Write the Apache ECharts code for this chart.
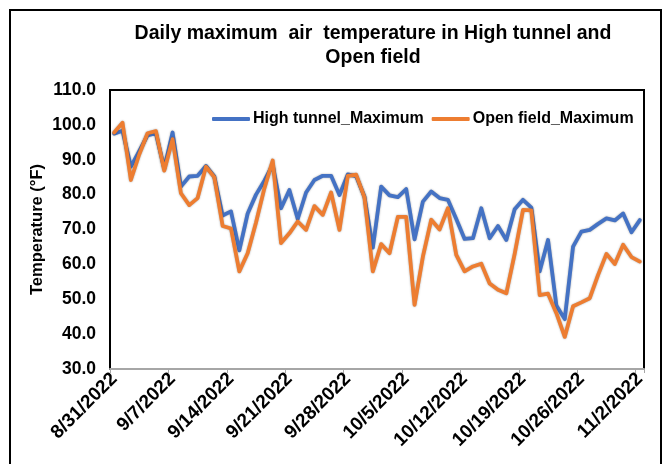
<!DOCTYPE html>
<html>
<head>
<meta charset="utf-8">
<script src="https://cdn.jsdelivr.net/npm/echarts@6/dist/echarts.min.js"></script>
<style>
  html, body { margin: 0; padding: 0; background: #ffffff; }
  #chart { width: 664px; height: 464px; }
</style>
</head>
<body>
<div id="chart"></div>
<script>
// Daily dates, 8/31/2022 through 11/2/2022
const dates = [
  '8/31/2022',
  '9/1/2022', '9/2/2022', '9/3/2022', '9/4/2022', '9/5/2022', '9/6/2022', '9/7/2022',
  '9/8/2022', '9/9/2022', '9/10/2022', '9/11/2022', '9/12/2022', '9/13/2022', '9/14/2022',
  '9/15/2022', '9/16/2022', '9/17/2022', '9/18/2022', '9/19/2022', '9/20/2022', '9/21/2022',
  '9/22/2022', '9/23/2022', '9/24/2022', '9/25/2022', '9/26/2022', '9/27/2022', '9/28/2022',
  '9/29/2022', '9/30/2022', '10/1/2022', '10/2/2022', '10/3/2022', '10/4/2022', '10/5/2022',
  '10/6/2022', '10/7/2022', '10/8/2022', '10/9/2022', '10/10/2022', '10/11/2022', '10/12/2022',
  '10/13/2022', '10/14/2022', '10/15/2022', '10/16/2022', '10/17/2022', '10/18/2022', '10/19/2022',
  '10/20/2022', '10/21/2022', '10/22/2022', '10/23/2022', '10/24/2022', '10/25/2022', '10/26/2022',
  '10/27/2022', '10/28/2022', '10/29/2022', '10/30/2022', '10/31/2022', '11/1/2022', '11/2/2022'
];

// Daily maximum air temperature (°F)
const highTunnelMax = [
  97.5, 98.3, 88.0, 92.5, 97.0, 97.6, 87.5, 97.8,
  82.3, 85.2, 85.4, 88.2, 85.2, 74.0, 75.2,
  64.0, 74.6, 80.0, 84.0, 88.5, 76.1, 81.3,
  73.0, 80.6, 84.2, 85.4, 85.4, 79.9, 85.8,
  85.3, 79.4, 64.8, 82.3, 79.8, 79.3, 81.6,
  67.2, 78.0, 80.9, 79.0, 78.5, 73.0, 67.3,
  67.5, 76.1, 67.5, 71.0, 67.0, 75.8, 78.5,
  76.3, 58.0, 67.0, 48.2, 44.3, 65.1, 69.4,
  69.9, 71.6, 73.2, 72.6, 74.6, 69.2, 72.7
];

const openFieldMax = [
  97.8, 100.6, 84.2, 91.5, 97.6, 98.2, 86.9, 95.9,
  80.4, 77.0, 79.0, 88.0, 85.0, 71.0, 70.3,
  58.0, 63.2, 72.0, 81.8, 89.8, 66.1, 68.9,
  72.3, 69.9, 76.7, 74.2, 80.6, 69.9, 85.4,
  85.7, 79.2, 58.0, 65.8, 63.2, 73.6, 73.6,
  48.4, 62.2, 72.8, 70.0, 76.1, 62.7, 58.0,
  59.4, 60.2, 54.5, 52.7, 51.7, 63.0, 75.6,
  75.5, 51.2, 51.6, 46.0, 39.2, 48.0, 49.1,
  50.3, 57.0, 63.0, 60.1, 65.6, 62.1, 60.8
];

// Temperature axis range and step
const yMin = 30;
const yMax = 110;
const yStep = 10;

const seriesNames = ['High tunnel_Maximum', 'Open field_Maximum'];
const seriesColors = ['#4472C4', '#ED7D31'];

const FONT = '"Liberation Sans", Arial, Helvetica, sans-serif';

const chart = echarts.init(document.getElementById('chart'), null, { renderer: 'canvas' });

chart.setOption({
  animation: false,
  backgroundColor: '#ffffff',
  title: {
    text: 'Daily maximum  air  temperature in High tunnel and\nOpen field',
    left: 368,
    top: 17,
    textAlign: 'center',
    textStyle: {
      fontFamily: FONT,
      fontSize: 19.5,
      fontWeight: 'bold',
      color: '#000',
      lineHeight: 24
    }
  },
  legend: {
    data: seriesNames,
    left: 207,
    top: 106,
    itemWidth: 38,
    itemHeight: 4,
    itemGap: 8,
    icon: 'roundRect',
    textStyle: {
      fontFamily: FONT,
      fontSize: 16,
      fontWeight: 'bold',
      color: '#000',
      padding: [0, 0, 0, -2]
    }
  },
  graphic: [{
    type: 'rect',
    silent: true,
    shape: { x: 10, y: 10, width: 651, height: 470 },
    style: { fill: 'none', stroke: '#000', lineWidth: 2 }
  }],
  grid: {
    left: 110,
    right: 20,
    top: 90,
    bottom: 95,
    show: true,
    borderColor: '#000',
    borderWidth: 2,
    backgroundColor: 'transparent'
  },
  xAxis: {
    type: 'category',
    data: dates,
    boundaryGap: true,
    axisLine: { show: true, lineStyle: { color: '#a6a6a6', width: 2 } },
    axisTick: { show: true, interval: 6, alignWithLabel: false, length: 4, lineStyle: { color: '#a6a6a6', width: 1 } },
    axisLabel: {
      interval: 6,
      rotate: 45,
      margin: 7,
      fontFamily: FONT,
      fontSize: 19,
      fontWeight: 'bold',
      color: '#000'
    },
    splitLine: { show: false }
  },
  yAxis: {
    type: 'value',
    min: yMin,
    max: yMax,
    interval: yStep,
    name: 'Temperature (°F)',
    nameLocation: 'middle',
    nameGap: 64,
    nameMoveOverlap: false,
    nameTextStyle: {
      fontFamily: FONT,
      fontSize: 16.5,
      fontWeight: 'bold',
      color: '#000'
    },
    axisLine: { show: false },
    axisTick: { show: false },
    splitLine: { show: false },
    axisLabel: {
      margin: 14,
      fontFamily: FONT,
      fontSize: 17.5,
      fontWeight: 'bold',
      color: '#000',
      formatter: v => v.toFixed(1)
    }
  },
  series: [highTunnelMax, openFieldMax].map((vals, k) => ({
    name: seriesNames[k],
    type: 'line',
    data: vals,
    showSymbol: false,
    symbol: 'none',
    color: seriesColors[k],
    lineStyle: {
      color: seriesColors[k],
      width: 3.8,
      join: 'round',
      cap: 'round',
      shadowColor: 'rgba(0,0,0,0.35)',
      shadowBlur: 2
    },
    emphasis: { disabled: true }
  }))
});
</script>
</body>
</html>
